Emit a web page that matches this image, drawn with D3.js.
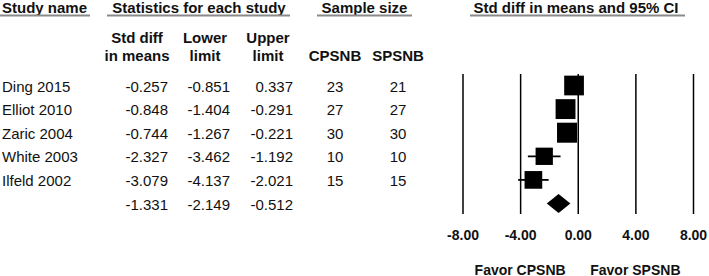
<!DOCTYPE html>
<html>
<head>
<meta charset="utf-8">
<script src="https://cdn.jsdelivr.net/npm/d3@7"></script>
<style>
  body { margin: 0; background: #fff; }
  svg { display: block; }
  text { font-family: "Liberation Sans", Arial, sans-serif; fill: #111; }
</style>
</head>
<body>
<svg id="forest"></svg>
<script>
// data
var studies = ["Ding 2015", "Elliot 2010", "Zaric 2004", "White 2003", "Ilfeld 2002"];
var smd = [-0.257, -0.848, -0.744, -2.327, -3.079];
var lower = [-0.851, -1.404, -1.267, -3.462, -4.137];
var upper = [0.337, -0.291, -0.221, -1.192, -2.021];
var nCPSNB = [23, 27, 30, 10, 15];
var nSPSNB = [21, 27, 30, 10, 15];
var weights = [21.7, 22.0, 22.3, 16.7, 17.4]; // relative weight (%), sets box size
var summary = [-1.331, -2.149, -0.512]; // mean, lower, upper
var xTicks = [-8, -4, 0, 4, 8];
var favorLabels = ["Favor CPSNB", "Favor SPSNB"];
var favorAt = [-4, 4];

var width = 709;
var height = 276;

var svg = d3.select("#forest")
  .attr("width", width)
  .attr("height", height);

// plain hyphen for negatives, like the original
var locale = d3.formatLocale({ decimal: ".", thousands: ",", grouping: [3], currency: ["", ""], minus: "-" });
var fmt = locale.format(".3f");

// x scale for the plot, row scale for the table
var x = d3.scaleLinear().domain([-8, 8]).range([462.5, 693]);
var rows = d3.range(studies.length + 1);
var y = d3.scalePoint().domain(rows).range([85.5, 203.5]);
var box = d3.scaleSqrt().domain([0, d3.max(weights)]).range([0, 20]);

// group headers with grey underline
var headers = [
  { label: "Study name", x: 2, anchor: "start", x0: 0, x1: 90 },
  { label: "Statistics for each study", x: 199, anchor: "middle", x0: 107, x1: 290 },
  { label: "Sample size", x: 364.5, anchor: "middle", x0: 317, x1: 412 },
  { label: "Std diff in means and 95% CI", x: 576, anchor: "middle", x0: 470, x1: 685 }
];

svg.selectAll(".head")
  .data(headers)
  .enter()
  .append("text")
  .attr("class", "head")
  .attr("x", d => d.x)
  .attr("y", 13)
  .attr("text-anchor", d => d.anchor)
  .style("font-size", "15px")
  .style("font-weight", "bold")
  .text(d => d.label);

svg.selectAll(".uline")
  .data(headers)
  .enter()
  .append("line")
  .attr("x1", d => d.x0)
  .attr("x2", d => d.x1)
  .attr("y1", 15.5)
  .attr("y2", 15.5)
  .style("stroke", "#8a8a8a")
  .style("stroke-width", 2);

// column sub headers
var cols = [
  { lines: ["Std diff", "in means"], x: 137 },
  { lines: ["Lower", "limit"], x: 205 },
  { lines: ["Upper", "limit"], x: 268 },
  { lines: ["CPSNB"], x: 335 },
  { lines: ["SPSNB"], x: 398 }
];

cols.forEach(function (c) {
  var base = 61 - (c.lines.length - 1) * 18;
  c.lines.forEach(function (l, i) {
    svg.append("text")
      .attr("x", c.x)
      .attr("y", base + i * 18)
      .attr("text-anchor", "middle")
      .style("font-size", "15px")
      .style("font-weight", "bold")
      .text(l);
  });
});

// table body
var table = svg.append("g").style("font-size", "15px");

function column(values, xpos, anchor) {
  table.append("g")
    .selectAll("text")
    .data(values)
    .enter()
    .append("text")
    .attr("x", xpos)
    .attr("y", (d, i) => y(i) + 6)
    .attr("text-anchor", anchor)
    .text(d => d);
}

column(studies, 2, "start");
column(smd.concat(summary[0]).map(fmt), 168, "end");
column(lower.concat(summary[1]).map(fmt), 230, "end");
column(upper.concat(summary[2]).map(fmt), 293, "end");
column(nCPSNB, 335, "middle");
column(nSPSNB, 398, "middle");

// axis with vertical reference lines
var axisTop = 74, axisBottom = 214;
var axis = svg.append("g")
  .attr("transform", "translate(0," + axisBottom + ")")
  .call(
    d3.axisBottom(x)
      .tickValues(xTicks)
      .tickSize(-(axisBottom - axisTop))
      .tickPadding(16)
      .tickFormat(locale.format(".2f"))
  );

axis.select(".domain").remove();
axis.selectAll(".tick line")
  .style("stroke", "#000")
  .style("stroke-width", 1.5);
axis.selectAll(".tick text")
  .style("font-family", "'Liberation Sans', Arial, sans-serif")
  .style("font-size", "14px")
  .style("font-weight", "bold")
  .style("fill", "#111");

// confidence intervals
var plot = svg.append("g");
plot.selectAll(".ci")
  .data(studies)
  .enter()
  .append("line")
  .attr("x1", (d, i) => x(lower[i]))
  .attr("x2", (d, i) => x(upper[i]))
  .attr("y1", (d, i) => y(i))
  .attr("y2", (d, i) => y(i))
  .style("stroke", "#000")
  .style("stroke-width", 1.8);

// weighted boxes
plot.selectAll(".box")
  .data(studies)
  .enter()
  .append("rect")
  .attr("x", (d, i) => x(smd[i]) - box(weights[i]) / 2)
  .attr("y", (d, i) => y(i) - box(weights[i]) / 2)
  .attr("width", (d, i) => box(weights[i]))
  .attr("height", (d, i) => box(weights[i]))
  .style("fill", "#000");

// summary diamond
var yd = y(studies.length);
plot.append("path")
  .attr("d", d3.line()([
    [x(summary[1]), yd],
    [x(summary[0]), yd - 9.5],
    [x(summary[2]), yd],
    [x(summary[0]), yd + 9.5]
  ]) + "Z")
  .style("fill", "#000");

// favour labels
svg.selectAll(".favor")
  .data(favorLabels)
  .enter()
  .append("text")
  .attr("x", (d, i) => x(favorAt[i]))
  .attr("y", 274.5)
  .attr("text-anchor", "middle")
  .style("font-size", "14px")
  .style("font-weight", "bold")
  .text(d => d);
</script>
</body>
</html>
